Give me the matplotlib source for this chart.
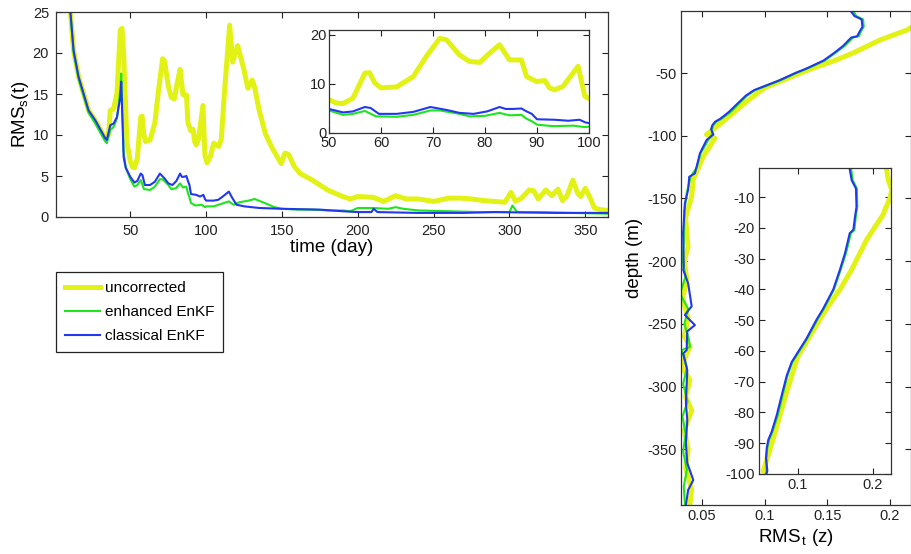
import numpy as np
import matplotlib
matplotlib.use("Agg")
import matplotlib.pyplot as plt

plt.rcParams['font.family'] = ['Liberation Sans', 'DejaVu Sans']
plt.rcParams['mathtext.default'] = 'regular'
plt.rcParams['axes.unicode_minus'] = False
plt.rcParams['font.size'] = 10.5

YEL = '#e2f214'
GRN = '#1ee61e'
BLU = '#2238f0'

# RMS_s(t) time series (day, value)
unc_day = [1, 4, 7, 10.4, 12.6, 15.9, 22.5, 26.9, 33.5, 35.6, 36.8, 39, 41.2, 43.4, 44.5, 45.6, 47.8,
           50, 51.4, 52.7, 54.6, 56.9, 57.8, 58.8, 60, 63, 66.2, 68.7, 71.3, 72.6, 75.1, 77, 79, 80.9,
           82.8, 84.7, 87, 88, 89.9, 91.5, 92.4, 93.4, 95, 97.9, 99.2, 100.6, 103, 105, 108.3, 110,
           112, 115.5, 117.5, 120.8, 125, 127.5, 130.4, 132, 135, 139, 143, 147, 149.5, 152, 154.5,
           158, 162, 170, 180, 190, 195, 200, 210, 217, 225, 232, 240, 250, 260, 268, 275, 283, 290,
           297, 301, 304, 308, 313, 316, 319, 324, 328, 332, 335, 338, 341.8, 345, 347, 350, 353,
           356, 360, 365]
unc_val = [45, 36, 29, 25.2, 20.3, 17.1, 13.0, 11.8, 9.6, 10, 13, 13.2, 15.1, 22.8, 23, 20, 9,
           6.8, 6.1, 6.0, 7.1, 12.2, 12.3, 10.2, 9.2, 9.4, 11.5, 15.6, 19.3, 19, 15.9, 14.6, 14.4, 16.3,
           18, 14.9, 14.9, 11.5, 10.5, 10.7, 9.2, 8.8, 9.5, 13.6, 7.5, 6.6, 7.5, 9.0, 8.6, 9.5,
           15, 23.4, 18.9, 20.9, 17.9, 15.7, 16.7, 15.8, 13.0, 10.2, 8.6, 7.3, 6.5, 7.8, 7.6,
           6.2, 5.3, 4.5, 3.3, 2.5, 2.2, 2.5, 2.4, 1.9, 2.6, 2.2, 2.2, 1.9, 2.3, 2.3, 2.2, 2.0, 1.9,
           1.8, 3.0, 1.9, 2.3, 3.3, 3.2, 2.2, 3.3, 2.6, 3.4, 2.0, 2.6, 4.5, 2.9, 2.5, 3.5, 2.4,
           1.1, 0.9, 0.8]

enh_day = [1, 4, 7, 10.4, 12.6, 15.9, 22.5, 26.9, 33.5, 34.5, 36.8, 39, 41.2, 43.4, 44, 45.6, 47,
           50, 52.7, 54.6, 56.9, 59, 63, 66.2, 69.5, 71.3, 75.1, 77, 80, 82.8, 84.7, 87, 88, 89, 90,
           93, 97, 99.2, 100, 105, 110, 115, 118, 122, 128, 132, 136, 140, 145, 150, 160, 170, 180,
           190, 195, 200, 210, 220, 225, 230, 240, 260, 280, 295, 300, 302, 305, 320, 340, 365]
enh_val = [45, 36, 29, 25.2, 20.0, 16.8, 12.7, 11.4, 9.2, 9.0, 10.6, 11.0, 12.0, 15.5, 17.5, 8.0, 6.0,
           4.6, 3.7, 3.9, 4.5, 3.4, 3.3, 3.7, 4.6, 4.6, 3.9, 3.4, 3.5, 4.1, 3.6, 3.7, 2.9, 2.4, 1.7,
           1.4, 1.5, 1.2, 1.3, 1.3, 1.6, 1.9, 1.5, 1.8, 2.0, 2.2, 1.9, 1.6, 1.2, 1.0, 0.9, 0.9, 0.8,
           0.8, 0.7, 1.1, 1.1, 1.0, 1.2, 1.0, 0.8, 0.7, 0.6, 0.6, 0.6, 1.4, 0.6, 0.6, 0.5, 0.4]

cls_day = [1, 4, 7, 10.4, 12.6, 15.9, 22.5, 26.9, 33.5, 34.5, 36.8, 39, 41.2, 43.4, 44, 45.6, 47,
           50, 52.7, 54.6, 56.9, 58, 59.6, 63, 66.2, 69.5, 72.6, 75.1, 77.8, 80.4, 82.8, 84, 85.3, 87,
           88, 89, 90, 93.4, 96, 98.2, 99.2, 100, 105, 108, 111, 115, 117, 120, 125, 135, 150, 175,
           190, 200, 209, 210.5, 213, 240, 270, 290, 330, 365]
cls_val = [45, 36, 29, 25.2, 20.3, 17.1, 13.0, 11.8, 9.6, 9.4, 11.2, 11.4, 12.2, 14.6, 16.5, 7.3, 6.0,
           4.9, 4.2, 4.4, 5.3, 5.1, 3.9, 3.9, 4.3, 5.3, 4.7, 4.1, 3.9, 4.4, 5.3, 4.9, 4.9, 5.0,
           4.4, 3.9, 2.8, 2.7, 2.5, 2.7, 2.2, 2.0, 2.0, 2.1, 2.5, 3.1, 2.4, 1.5, 1.3, 1.1, 1.0, 0.9,
           0.7, 0.6, 0.6, 1.0, 0.6, 0.5, 0.5, 0.6, 0.5, 0.5]

# RMS_t(z) depth profiles (value, depth)
cls_z = [-1, -4.5, -7.2, -13.1, -16.4, -20.6, -21.7, -28.2, -33.5, -40, -46.5, -49.7, -56.1, -61.5,
         -63.6, -68, -74.4, -80.9, -86.2, -88.9, -91.6, -94.8, -99, -103.4, -114, -130, -132.7, -143,
         -154, -177.6, -204, -207, -217.7, -236, -243, -251, -256, -271, -273.5, -287, -313, -326.7,
         -345, -361, -374.6, -382.5, -394.5]
cls_rms = [0.169, 0.1716, 0.1773, 0.178, 0.176, 0.1738, 0.169, 0.1627, 0.156, 0.147, 0.133, 0.125,
           0.111, 0.097, 0.0916, 0.085, 0.0783, 0.0716, 0.065, 0.0604, 0.0583, 0.0573, 0.0591, 0.0537,
           0.0484, 0.0444, 0.0399, 0.039, 0.0364, 0.035, 0.0355, 0.0351, 0.039, 0.0418, 0.0364, 0.0444,
           0.0383, 0.0378, 0.0351, 0.0383, 0.0372, 0.0383, 0.0372, 0.0383, 0.0431, 0.039, 0.0372]

enh_z = [-1, -4.5, -7.2, -13.1, -16.4, -20.6, -21.7, -28.2, -33.5, -40, -46.5, -49.7, -56.1, -61.5,
         -63.6, -68, -74.4, -80.9, -86.2, -88.9, -91.6, -94.8, -99, -103.4, -114, -125, -132.7, -145,
         -160, -185, -200, -212, -226, -238, -250, -262, -268.5, -271, -285, -298, -312, -324, -338,
         -352, -366, -380, -394.5]
enh_rms = [0.171, 0.173, 0.1785, 0.179, 0.177, 0.1752, 0.1705, 0.164, 0.157, 0.148, 0.134, 0.126,
           0.112, 0.098, 0.0925, 0.086, 0.0795, 0.073, 0.066, 0.0615, 0.059, 0.058, 0.058, 0.055,
           0.049, 0.046, 0.041, 0.038, 0.036, 0.0355, 0.0345, 0.037, 0.0325, 0.039, 0.036, 0.0395,
           0.0404, 0.0338, 0.038, 0.035, 0.0385, 0.0345, 0.037, 0.035, 0.038, 0.0355, 0.0365]

unc_z = [-1, -4.5, -7.6, -10.3, -14, -15.6, -20.5, -23.8, -28.1, -33.5, -40, -45.4, -49.7, -56.1,
         -61.5, -64.7, -73.3, -80.9, -88.4, -93.8, -99, -102, -116.7, -135, -148.6, -165, -188.5,
         -200, -215, -230, -245, -260, -268, -284, -295, -308, -319, -335, -350, -365, -382, -394]
unc_rms = [0.2182, 0.2204, 0.225, 0.2227, 0.216, 0.2137, 0.2004, 0.1916, 0.1827, 0.1716, 0.156,
           0.1404, 0.1293, 0.1137, 0.1004, 0.096, 0.085, 0.076, 0.0671, 0.0604, 0.0537, 0.0604,
           0.051, 0.043, 0.0418, 0.037, 0.0389, 0.036, 0.038, 0.0345, 0.039, 0.036, 0.0404, 0.0338,
           0.0404, 0.037, 0.0418, 0.036, 0.039, 0.037, 0.0418, 0.0404]

W, H = 911, 554
fig = plt.figure(figsize=(W / 100, H / 100), dpi=100)


def box(x0, y0, x1, y1):
    return [x0 / W, 1 - y1 / H, (x1 - x0) / W, (y1 - y0) / H]


def style(ax, pad=5):
    ax.tick_params(direction='in', top=True, right=True, length=4, width=0.8, pad=pad,
                   colors='#222222', labelsize=10.5)
    for s in ax.spines.values():
        s.set_color('#333333')
        s.set_linewidth(0.9)


def draw_time(ax):
    ax.plot(unc_day, unc_val, color=YEL, lw=3.6, solid_joinstyle='round', label='uncorrected')
    ax.plot(enh_day, enh_val, color=GRN, lw=1.5, label='enhanced EnKF')
    ax.plot(cls_day, cls_val, color=BLU, lw=1.5, label='classical EnKF')


def draw_depth(ax):
    ax.plot(unc_rms, unc_z, color=YEL, lw=3.6, solid_joinstyle='round')
    ax.plot(enh_rms, enh_z, color=GRN, lw=1.5)
    ax.plot(cls_rms, cls_z, color=BLU, lw=1.5)


# main time-series panel
ax1 = fig.add_axes(box(56, 12, 608, 217))
draw_time(ax1)
ax1.set_xlim(1, 365)
ax1.set_ylim(0, 25)
ax1.set_xticks([50, 100, 150, 200, 250, 300, 350])
ax1.set_yticks([0, 5, 10, 15, 20, 25])
ax1.set_xlabel('time (day)', fontsize=13.5, labelpad=1)
ax1.set_ylabel('RMS$_s$(t)', fontsize=13.5, labelpad=1)
style(ax1)

ins1 = fig.add_axes(box(329, 30, 589, 133))
draw_time(ins1)
ins1.set_xlim(50, 100)
ins1.set_ylim(0, 21)
ins1.set_xticks([50, 60, 70, 80, 90, 100])
ins1.set_yticks([0, 10, 20])
style(ins1, pad=2)

h, l = ax1.get_legend_handles_labels()
leg = fig.legend(h, l, loc='upper left', bbox_to_anchor=(56 / W, 1 - 272 / H),
                 fancybox=False, edgecolor='#222222', framealpha=1, fontsize=11,
                 handlelength=2.3, handletextpad=0.3, borderpad=0.6, labelspacing=0.65,
                 borderaxespad=0)
leg.get_frame().set_linewidth(0.9)

# depth profile panel
ax2 = fig.add_axes(box(681, 11, 911, 505))
draw_depth(ax2)
ax2.set_xlim(0.0333, 0.2167)
ax2.set_ylim(-394.5, -0.5)
ax2.set_xticks([0.05, 0.1, 0.15, 0.2])
ax2.set_xticklabels(['0.05', '0.1', '0.15', '0.2'])
ax2.set_yticks([-350, -300, -250, -200, -150, -100, -50])
ax2.set_xlabel(r'RMS$_{\,t}$ (z)', fontsize=13.5, labelpad=3)
ax2.set_ylabel('depth (m)', fontsize=13.5, labelpad=3)
style(ax2, pad=3)

ins2 = fig.add_axes(box(759, 168, 891, 474))
draw_depth(ins2)
ins2.set_xlim(0.048, 0.224)
ins2.set_ylim(-100, -0.5)
ins2.set_xticks([0.1, 0.2])
ins2.set_xticklabels(['0.1', '0.2'])
ins2.set_yticks([-100, -90, -80, -70, -60, -50, -40, -30, -20, -10])
style(ins2, pad=3)

fig.savefig('out.png', dpi=100)
